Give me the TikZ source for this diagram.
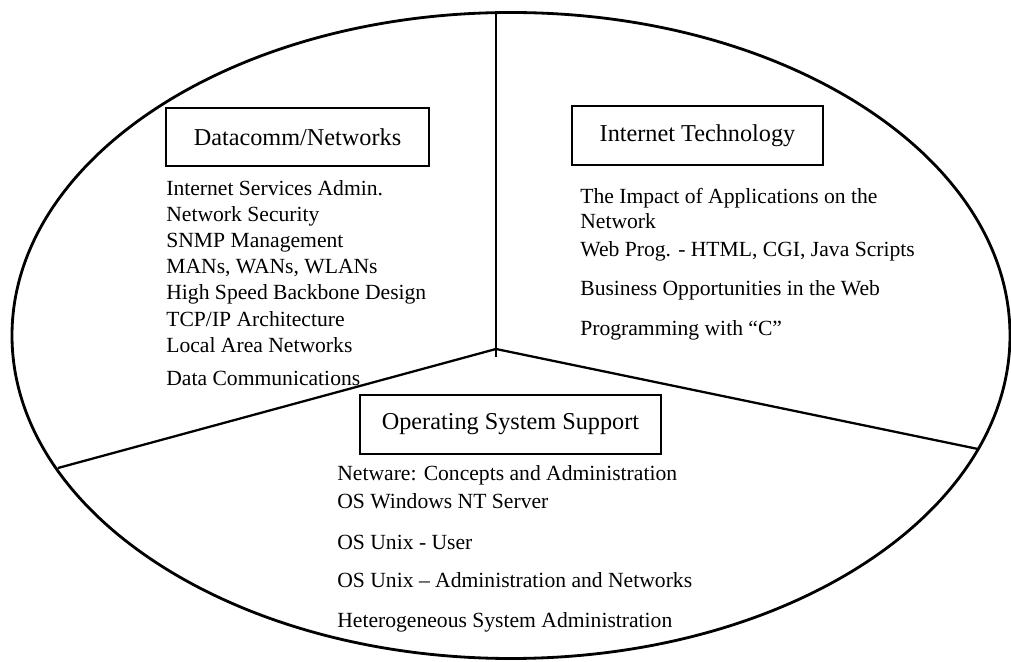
\documentclass[tikz,border=0pt]{standalone}
\usepackage{fontspec}
\setmainfont{Liberation Serif}
\begin{document}
\begin{tikzpicture}[box/.style={draw, line width=1.1pt, minimum height=1.17cm, font=\fontsize{13.8}{16}\selectfont}, item/.style={anchor=west, inner sep=0pt, text height=1.5ex, text depth=.25ex, font=\fontsize{12.3}{14}\selectfont}]
			\useasboundingbox (0, 0) rectangle (20.22, 13.24);
			\draw[line width=1.6pt] (10.22, 6.53) ellipse [x radius=9.98, y radius=6.46];

			\coordinate (hub) at (9.92, 6.26);
			\coordinate (top) at (9.92, 12.99);
			\coordinate (low) at (9.92, 6.10);
			\coordinate (lend) at (1.16, 3.88);
			\coordinate (rend) at (19.56, 4.26);

			\draw[line width=1.3pt] (top) -- (low);
			\draw[line width=1.3pt] (hub) -- (lend);
			\draw[line width=1.3pt] (hub) -- (rend);

			\node[box, minimum width=5.26cm] (dcn) at (5.95, 10.50) {Datacomm/Networks};
			\node[box, minimum width=5.02cm] (itech) at (13.95, 10.53) {Internet Technology};
			\node[box, minimum width=6.02cm] (oss) at (10.21, 4.75) {Operating System Support};

			\node[item] (d1) at (3.32, 9.44) {Internet Services Admin.};
			\node[item] (d2) at (3.32, 8.92) {Network Security};
			\node[item] (d3) at (3.32, 8.40) {SNMP Management};
			\node[item] (d4) at (3.32, 7.88) {MANs, WANs, WLANs};
			\node[item] (d5) at (3.32, 7.36) {High Speed Backbone Design};
			\node[item] (d6) at (3.32, 6.82) {TCP/IP Architecture};
			\node[item] (d7) at (3.32, 6.30) {Local Area Networks};
			\node[item] (d8) at (3.32, 5.64) {Data Communications};

			\node[item] (i1) at (11.60, 9.28) {The Impact of Applications on the};
			\node[item] (i1b) at (11.60, 8.78) {Network};
			\node[item] (i2) at (11.60, 8.22) {Web Prog. - HTML, CGI, Java Scripts};
			\node[item] (i3) at (11.60, 7.44) {Business Opportunities in the Web};
			\node[item] (i4) at (11.60, 6.64) {Programming with “C”};

			\node[item] (o1) at (6.74, 3.74) {Netware: Concepts and Administration};
			\node[item] (o2) at (6.74, 3.18) {OS Windows NT Server};
			\node[item] (o3) at (6.74, 2.36) {OS Unix - User};
			\node[item] (o4) at (6.74, 1.60) {OS Unix – Administration and Networks};
			\node[item] (o5) at (6.74, 0.80) {Heterogeneous System Administration};
		\end{tikzpicture}
\end{document}
